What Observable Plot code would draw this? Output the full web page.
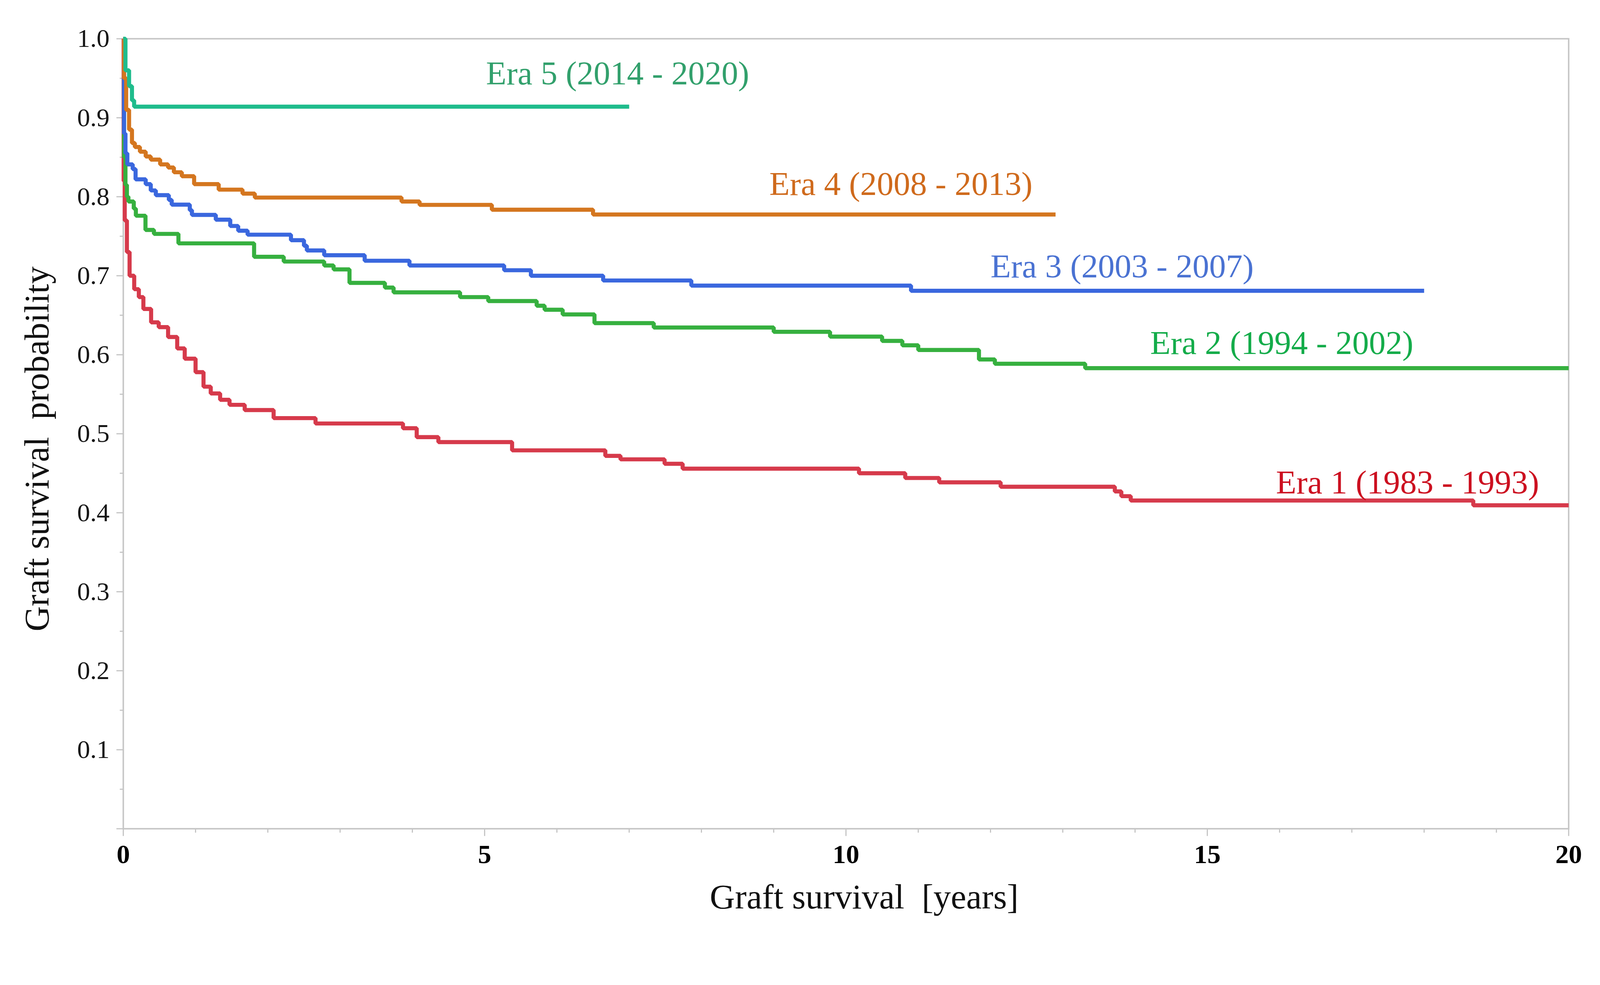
<!DOCTYPE html>
<html><head><meta charset="utf-8">
<script src="https://cdn.jsdelivr.net/npm/d3@7"></script>
<script src="https://cdn.jsdelivr.net/npm/@observablehq/plot@0.6"></script>
<style>
html,body{margin:0;padding:0;background:#fff;overflow:hidden;}
svg{display:block;}
svg text{white-space:pre;}
</style></head><body><div id="chart"></div>
<script>
// ---- data ----
const eras = ["Era 1 (1983 - 1993)", "Era 2 (1994 - 2002)", "Era 3 (2003 - 2007)", "Era 4 (2008 - 2013)", "Era 5 (2014 - 2020)"];

const era1Years = [0, 0.005, 0.02, 0.05, 0.087, 0.151, 0.215, 0.278, 0.385, 0.49, 0.62, 0.746, 0.85, 1.0, 1.11, 1.21, 1.34, 1.47, 1.68, 2.08, 2.66, 3.87, 4.06, 4.36, 5.38, 6.67, 6.88, 7.49, 7.74, 10.18, 10.82, 11.29, 12.14, 13.72, 13.81, 13.94, 18.68, 20];
const era1Surv  = [1.0, 0.82, 0.77, 0.73, 0.70, 0.683, 0.673, 0.658, 0.641, 0.635, 0.6225, 0.608, 0.595, 0.578, 0.5596, 0.551, 0.543, 0.5366, 0.530, 0.5198, 0.513, 0.507, 0.4957, 0.4894, 0.479, 0.472, 0.4676, 0.462, 0.4558, 0.450, 0.444, 0.4385, 0.4329, 0.427, 0.421, 0.4155, 0.4094, 0.4094];

const era2Years = [0, 0.01, 0.03, 0.05, 0.071, 0.145, 0.174, 0.307, 0.424, 0.763, 1.81, 2.22, 2.78, 2.91, 3.13, 3.62, 3.74, 4.66, 5.05, 5.72, 5.83, 6.08, 6.52, 7.34, 9.00, 9.78, 10.50, 10.78, 11.0, 11.84, 12.06, 13.31, 20];
const era2Surv  = [1.0, 0.85, 0.815, 0.80, 0.794, 0.785, 0.776, 0.758, 0.753, 0.741, 0.724, 0.718, 0.713, 0.708, 0.691, 0.685, 0.679, 0.673, 0.668, 0.662, 0.657, 0.651, 0.640, 0.6345, 0.629, 0.623, 0.6175, 0.612, 0.606, 0.594, 0.5886, 0.583, 0.583];

const era3Years = [0, 0.01, 0.03, 0.056, 0.13, 0.17, 0.31, 0.38, 0.45, 0.63, 0.67, 0.92, 0.95, 1.28, 1.48, 1.59, 1.72, 2.32, 2.50, 2.54, 2.78, 3.34, 3.96, 5.27, 5.64, 6.64, 7.86, 10.9, 18.0];
const era3Surv  = [1.0, 0.88, 0.855, 0.841, 0.835, 0.822, 0.816, 0.808, 0.802, 0.796, 0.790, 0.783, 0.777, 0.771, 0.763, 0.757, 0.752, 0.745, 0.738, 0.732, 0.726, 0.719, 0.713, 0.707, 0.700, 0.694, 0.6875, 0.681, 0.681];

const era4Years = [0, 0.01, 0.04, 0.08, 0.12, 0.16, 0.23, 0.31, 0.38, 0.51, 0.62, 0.70, 0.81, 0.98, 1.32, 1.65, 1.82, 3.85, 4.10, 5.10, 6.50, 12.9];
const era4Surv  = [1.0, 0.95, 0.91, 0.885, 0.868, 0.863, 0.857, 0.851, 0.847, 0.841, 0.837, 0.831, 0.826, 0.816, 0.809, 0.804, 0.799, 0.794, 0.7897, 0.7836, 0.7775, 0.7775];

const era5Years = [0, 0.03, 0.08, 0.12, 0.15, 7.0];
const era5Surv  = [1.0, 0.96, 0.94, 0.922, 0.914, 0.914];

// label anchor (start, baseline) in data units
const labelYears = [15.95, 14.21, 12.0, 8.94, 5.02];
const labelSurv  = [0.4244, 0.601, 0.698, 0.8023, 0.9423];

const yMajorTicks = [0, 0.1, 0.2, 0.3, 0.4, 0.5, 0.6, 0.7, 0.8, 0.9, 1.0];
const yMinorTicks = [0.05, 0.15, 0.25, 0.35, 0.45, 0.55, 0.65, 0.75, 0.85, 0.95];
const xMajorTicks = [0, 5, 10, 15, 20];
const xMinorTicks = [1, 2, 3, 4, 6, 7, 8, 9, 11, 12, 13, 14, 16, 17, 18, 19];

const xTitle = "Graft survival  [years]";
const yTitle = "Graft survival  probability";

// ---- styles ----
const lineColors  = ["#d63a4b", "#36b03f", "#3a67de", "#d4761f", "#1fbc8c"];
const labelColors = ["#cc1020", "#14ac4a", "#4a72d2", "#cf6a1c", "#32a06c"];
const gray = "#c2c2c2";
const serif = "Liberation Serif, Times New Roman, serif";

// ---- build ----
const years = [era1Years, era2Years, era3Years, era4Years, era5Years];
const survs = [era1Surv, era2Surv, era3Surv, era4Surv, era5Surv];
const rows = eras.flatMap((era, i) => years[i].map((t, j) => ({era, t, s: survs[i][j]})));
const labels = eras.map((era, i) => ({era, t: labelYears[i], s: labelSurv[i]}));
const fmt = d3.format(".1f");

const chart = Plot.plot({
  width: 4315,
  height: 2521,
  marginLeft: 332,
  marginRight: 85,
  marginTop: 104,
  marginBottom: 287,
  style: {background: "#fff", fontFamily: serif},
  x: {domain: [0, 20]},
  y: {domain: [0, 1]},
  color: {domain: eras, range: lineColors},
  marks: [
    Plot.axisY({ticks: yMinorTicks, tickSize: 9, tickFormat: () => "", stroke: gray, strokeWidth: 3, label: null}),
    Plot.axisY({ticks: yMajorTicks, tickSize: 18, tickPadding: 19, tickFormat: d => d === 0 ? "" : fmt(d),
      stroke: gray, strokeWidth: 3, fill: "#161616", fontSize: 70, fontFamily: serif, label: null}),
    Plot.axisX({ticks: xMinorTicks, tickSize: 11, tickFormat: () => "", stroke: gray, strokeWidth: 3, label: null}),
    Plot.axisX({ticks: xMajorTicks, tickSize: 20, tickPadding: 22, stroke: gray, strokeWidth: 3,
      fill: "#000", fontSize: 72, fontWeight: "bold", fontFamily: serif, label: null}),
    Plot.frame({stroke: "#c6c6c6", strokeWidth: 4}),
    Plot.line(rows, {x: "t", y: "s", z: "era", stroke: "era", curve: "step-after", strokeWidth: 11,
      strokeLinejoin: "miter", strokeLinecap: "butt"}),
    ...labels.map((d, i) => Plot.text([d], {x: "t", y: "s", text: "era", fill: labelColors[i],
      textAnchor: "start", lineAnchor: "bottom", fontSize: 90, fontFamily: serif})),
    Plot.text([yTitle], {text: d => d, frameAnchor: "left", rotate: -90, textAnchor: "middle", lineAnchor: "bottom",
      dx: -202, dy: 41, fontSize: 94, fill: "#111", fontFamily: serif}),
    Plot.text([xTitle], {text: d => d, frameAnchor: "bottom", textAnchor: "middle", lineAnchor: "bottom",
      dx: 49, dy: 215, fontSize: 94, fill: "#111", fontFamily: serif})
  ]
});
document.getElementById("chart").appendChild(chart);
</script>
</body></html>
